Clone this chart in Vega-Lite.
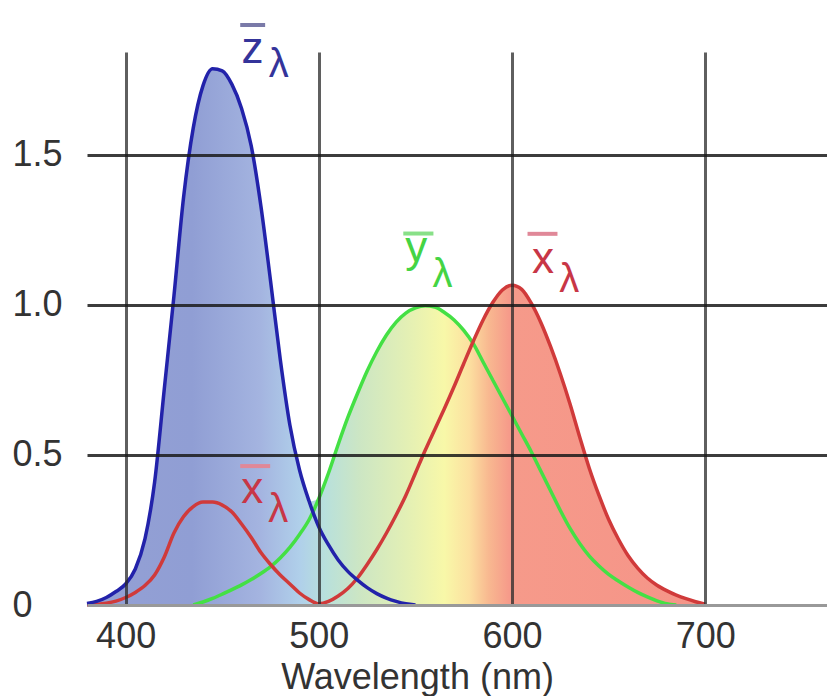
{
  "$schema": "https://vega.github.io/schema/vega-lite/v6.json",
  "width": 740,
  "height": 553,
  "autosize": {"type": "none"},
  "padding": {"left": 87, "top": 52, "right": 0, "bottom": 91},
  "background": "white",
  "config": {"view": {"stroke": null}, "font": "Liberation Sans"},
  "datasets": {
    "cmf": [
      {"nm": 380, "x": 0, "z": 0.005, "e": 0.005},
      {"nm": 385, "x": 0.002, "z": 0.012, "e": 0.012},
      {"nm": 390, "x": 0.006, "z": 0.025, "e": 0.025},
      {"nm": 395, "x": 0.013, "z": 0.045, "e": 0.045},
      {"nm": 400, "x": 0.025, "z": 0.07, "e": 0.07},
      {"nm": 405, "x": 0.042, "z": 0.12, "e": 0.12},
      {"nm": 410, "x": 0.065, "z": 0.22, "e": 0.22},
      {"nm": 415, "x": 0.10, "z": 0.41, "e": 0.41},
      {"nm": 420, "x": 0.16, "z": 0.72, "e": 0.72},
      {"nm": 425, "x": 0.24, "z": 1.03, "e": 1.03},
      {"nm": 430, "x": 0.295, "z": 1.36, "e": 1.36},
      {"nm": 435, "x": 0.328, "y": 0, "z": 1.59, "e": 1.59},
      {"nm": 440, "x": 0.343, "y": 0.01, "z": 1.73, "e": 1.73},
      {"nm": 445, "x": 0.343, "y": 0.022, "z": 1.787, "e": 1.787},
      {"nm": 450, "x": 0.333, "y": 0.036, "z": 1.78, "e": 1.78},
      {"nm": 455, "x": 0.31, "y": 0.051, "z": 1.735, "e": 1.735},
      {"nm": 460, "x": 0.27, "y": 0.067, "z": 1.655, "e": 1.655},
      {"nm": 465, "x": 0.225, "y": 0.085, "z": 1.53, "e": 1.53},
      {"nm": 470, "x": 0.175, "y": 0.105, "z": 1.33, "e": 1.33},
      {"nm": 475, "x": 0.135, "y": 0.128, "z": 1.08, "e": 1.08},
      {"nm": 480, "x": 0.10, "y": 0.157, "z": 0.82, "e": 0.82},
      {"nm": 485, "x": 0.07, "y": 0.192, "z": 0.60, "e": 0.60},
      {"nm": 490, "x": 0.04, "y": 0.235, "z": 0.45, "e": 0.45},
      {"nm": 495, "x": 0.018, "y": 0.285, "z": 0.345, "e": 0.345},
      {"nm": 500, "x": 0.004, "y": 0.355, "z": 0.26, "e": 0.355},
      {"nm": 505, "x": 0.012, "y": 0.44, "z": 0.20, "e": 0.44},
      {"nm": 510, "x": 0.03, "y": 0.535, "z": 0.15, "e": 0.535},
      {"nm": 515, "x": 0.055, "y": 0.625, "z": 0.112, "e": 0.625},
      {"nm": 520, "x": 0.09, "y": 0.705, "z": 0.083, "e": 0.705},
      {"nm": 525, "x": 0.135, "y": 0.78, "z": 0.058, "e": 0.78},
      {"nm": 530, "x": 0.185, "y": 0.845, "z": 0.038, "e": 0.845},
      {"nm": 535, "x": 0.24, "y": 0.90, "z": 0.023, "e": 0.90},
      {"nm": 540, "x": 0.30, "y": 0.943, "z": 0.012, "e": 0.943},
      {"nm": 545, "x": 0.365, "y": 0.973, "z": 0.004, "e": 0.973},
      {"nm": 550, "x": 0.44, "y": 0.99, "z": 0, "e": 0.99},
      {"nm": 555, "x": 0.515, "y": 0.997, "e": 0.997},
      {"nm": 560, "x": 0.585, "y": 0.993, "e": 0.993},
      {"nm": 565, "x": 0.655, "y": 0.975, "e": 0.975},
      {"nm": 570, "x": 0.728, "y": 0.95, "e": 0.95},
      {"nm": 575, "x": 0.805, "y": 0.915, "e": 0.915},
      {"nm": 580, "x": 0.88, "y": 0.87, "e": 0.88},
      {"nm": 585, "x": 0.95, "y": 0.81, "e": 0.95},
      {"nm": 590, "x": 1.008, "y": 0.75, "e": 1.008},
      {"nm": 595, "x": 1.05, "y": 0.69, "e": 1.05},
      {"nm": 600, "x": 1.066, "y": 0.63, "e": 1.066},
      {"nm": 605, "x": 1.052, "y": 0.57, "e": 1.052},
      {"nm": 610, "x": 1.005, "y": 0.51, "e": 1.005},
      {"nm": 615, "x": 0.94, "y": 0.445, "e": 0.94},
      {"nm": 620, "x": 0.86, "y": 0.38, "e": 0.86},
      {"nm": 625, "x": 0.77, "y": 0.315, "e": 0.77},
      {"nm": 630, "x": 0.67, "y": 0.255, "e": 0.67},
      {"nm": 635, "x": 0.56, "y": 0.205, "e": 0.56},
      {"nm": 640, "x": 0.455, "y": 0.163, "e": 0.455},
      {"nm": 645, "x": 0.365, "y": 0.13, "e": 0.365},
      {"nm": 650, "x": 0.285, "y": 0.102, "e": 0.285},
      {"nm": 655, "x": 0.22, "y": 0.08, "e": 0.22},
      {"nm": 660, "x": 0.165, "y": 0.06, "e": 0.165},
      {"nm": 665, "x": 0.123, "y": 0.042, "e": 0.123},
      {"nm": 670, "x": 0.09, "y": 0.027, "e": 0.09},
      {"nm": 675, "x": 0.066, "y": 0.014, "e": 0.066},
      {"nm": 680, "x": 0.048, "y": 0.004, "e": 0.048},
      {"nm": 685, "x": 0.033, "y": 0, "e": 0.033},
      {"nm": 690, "x": 0.021, "e": 0.021},
      {"nm": 695, "x": 0.011, "e": 0.011},
      {"nm": 700, "x": 0.003, "e": 0.003}
    ],
    "letters": [
      {"nm": 465.7, "val": 1.807, "t": "z", "s": "z"},
      {"nm": 550.4, "val": 1.143, "t": "y", "s": "y"},
      {"nm": 616.0, "val": 1.107, "t": "x", "s": "x"},
      {"nm": 465.5, "val": 0.34, "t": "x", "s": "x"}
    ],
    "lambdas": [
      {"nm": 479.2, "val": 1.76, "t": "λ", "s": "z"},
      {"nm": 564.0, "val": 1.06, "t": "λ", "s": "y"},
      {"nm": 629.6, "val": 1.043, "t": "λ", "s": "x"},
      {"nm": 479.0, "val": 0.277, "t": "λ", "s": "x"}
    ],
    "bars": [
      {"nm": 459.3, "nm2": 472.2, "val": 1.933, "s": "z"},
      {"nm": 543.7, "nm2": 559.3, "val": 1.238, "s": "y"},
      {"nm": 608.0, "nm2": 623.5, "val": 1.237, "s": "x"},
      {"nm": 459.3, "nm2": 474.8, "val": 0.463, "s": "x"}
    ]
  },
  "layer": [
    {
      "data": {"name": "cmf"},
      "mark": {
        "type": "area",
        "interpolate": "monotone",
        "color": {
          "gradient": "linear",
          "x1": 0, "x2": 1, "y1": 0, "y2": 0,
          "stops": [
            {"offset": 0, "color": "#94a0d4"},
            {"offset": 0.17, "color": "#909ed4"},
            {"offset": 0.28, "color": "#a4b4e0"},
            {"offset": 0.345, "color": "#b0d0ea"},
            {"offset": 0.385, "color": "#b8e0dc"},
            {"offset": 0.44, "color": "#cce6c4"},
            {"offset": 0.52, "color": "#e4f0b4"},
            {"offset": 0.578, "color": "#f8f8a8"},
            {"offset": 0.618, "color": "#fce0a0"},
            {"offset": 0.65, "color": "#f8b890"},
            {"offset": 0.683, "color": "#f69a8a"},
            {"offset": 1, "color": "#f59488"}
          ]
        }
      },
      "encoding": {
        "x": {
          "field": "nm", "type": "quantitative",
          "scale": {"domain": [380, 763], "nice": false, "zero": false},
          "axis": {
            "values": [400, 500, 600, 700],
            "zindex": 1,
            "grid": true, "gridColor": "#2a2a2a", "gridWidth": 3, "gridOpacity": 0.75,
            "ticks": false,
            "domain": true, "domainColor": "#999", "domainWidth": 3,
            "labelFontSize": 36, "labelColor": "#333", "labelPadding": 14,
            "title": "Wavelength (nm)", "titleFontSize": 36, "titleFontWeight": "normal",
            "titleColor": "#333", "titleX": 330, "titleY": 83, "titleBaseline": "alphabetic", "titleAlign": "center"
          }
        },
        "y": {
          "field": "e", "type": "quantitative",
          "scale": {"domain": [0, 1.843], "nice": false},
          "axis": {
            "values": [0, 0.5, 1, 1.5],
            "zindex": 1,
            "labelExpr": "datum.value == 0 ? '0' : format(datum.value, '.1f')",
            "grid": true, "gridColor": "#1a1a1a", "gridWidth": 3,
            "gridOpacity": {"condition": {"test": "datum.value == 0", "value": 0}, "value": 0.85},
            "ticks": false, "domain": false,
            "labelAlign": "left", "labelPadding": 75, "labelBaseline": "middle",
            "labelFontSize": 36, "labelColor": "#333", "title": null
          }
        }
      }
    },
    {
      "data": {"name": "cmf"},
      "mark": {"type": "line", "interpolate": "monotone", "color": "#44e044", "strokeWidth": 3.5},
      "encoding": {
        "x": {"field": "nm", "type": "quantitative"},
        "y": {"field": "y", "type": "quantitative"}
      }
    },
    {
      "data": {"name": "cmf"},
      "mark": {"type": "line", "interpolate": "monotone", "color": "#d03a3a", "strokeWidth": 3.5},
      "encoding": {
        "x": {"field": "nm", "type": "quantitative"},
        "y": {"field": "x", "type": "quantitative"}
      }
    },
    {
      "data": {"name": "cmf"},
      "mark": {"type": "line", "interpolate": "monotone", "color": "#2222aa", "strokeWidth": 3.5},
      "encoding": {
        "x": {"field": "nm", "type": "quantitative"},
        "y": {"field": "z", "type": "quantitative"}
      }
    },
    {
      "data": {"name": "bars"},
      "mark": {"type": "rule", "strokeWidth": 4},
      "encoding": {
        "x": {"field": "nm", "type": "quantitative"},
        "x2": {"field": "nm2"},
        "y": {"field": "val", "type": "quantitative"},
        "stroke": {"field": "s", "type": "nominal", "scale": {"domain": ["z", "y", "x"], "range": ["#7a7aa8", "#88e088", "#e08898"]}, "legend": null}
      }
    },
    {
      "data": {"name": "letters"},
      "mark": {"type": "text", "fontSize": 44, "align": "center", "baseline": "alphabetic"},
      "encoding": {
        "x": {"field": "nm", "type": "quantitative"},
        "y": {"field": "val", "type": "quantitative"},
        "text": {"field": "t"},
        "fill": {"field": "s", "type": "nominal", "scale": {"domain": ["z", "y", "x"], "range": ["#34349a", "#44d444", "#c83646"]}, "legend": null}
      }
    },
    {
      "data": {"name": "lambdas"},
      "mark": {"type": "text", "fontSize": 40, "align": "center", "baseline": "alphabetic"},
      "encoding": {
        "x": {"field": "nm", "type": "quantitative"},
        "y": {"field": "val", "type": "quantitative"},
        "text": {"field": "t"},
        "fill": {"field": "s", "type": "nominal", "legend": null}
      }
    }
  ]
}
